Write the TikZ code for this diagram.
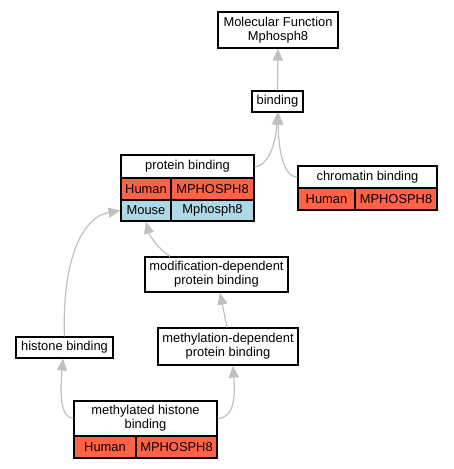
\documentclass[tikz,border=0pt]{standalone}
\usepackage{fontspec}
\setmainfont{Liberation Sans}
\usetikzlibrary{arrows.meta}
\definecolor{humanc}{RGB}{255,99,71}
\definecolor{mousec}{RGB}{173,216,230}
\definecolor{edgec}{RGB}{192,192,192}
\tikzset{
  cell/.style={draw=black, line width=1.2pt, fill=white, inner sep=0pt, align=center,
    font=\fontsize{12.9}{14}\selectfont, anchor=center},
  human/.style={cell, fill=humanc},
  mouse/.style={cell, fill=mousec},
  edge/.style={draw=edgec, line width=1.2pt, -{Triangle[length=12pt, width=10pt, fill=edgec]}},
}
\begin{document}
\begin{tikzpicture}[x=1pt, y=-1pt]
\useasboundingbox (0,0) rectangle (453,469);
% Molecular Function
\node[cell, minimum width=120pt, minimum height=36pt] (mf) at (278,30) {Molecular Function\\Mphosph8};
% binding
\node[cell, minimum width=51pt, minimum height=21pt] (bind) at (277.5,101.5) {binding};
% protein binding table
\node[cell, minimum width=133pt, minimum height=23pt] (pb) at (187.5,166.5) {protein binding};
\node[human, minimum width=50pt, minimum height=22pt] (pbh) at (146,189) {Human};
\node[human, minimum width=83pt, minimum height=22pt] (pbhg) at (212.5,189) {MPHOSPH8};
\node[mouse, minimum width=50pt, minimum height=21pt] (pbm) at (146,210.5) {Mouse};
\node[mouse, minimum width=83pt, minimum height=21pt] (pbmg) at (212.5,210.5) {Mphosph8};
% chromatin binding
\node[cell, minimum width=139pt, minimum height=22pt] (cb) at (367.5,177) {chromatin binding};
\node[human, minimum width=57pt, minimum height=22pt] (cbh) at (326.5,199) {Human};
\node[human, minimum width=82pt, minimum height=22pt] (cbhg) at (396,199) {MPHOSPH8};
% modification-dependent
\node[cell, minimum width=143pt, minimum height=35pt] (mod) at (216.5,274.5) {modification-dependent\\protein binding};
% histone binding
\node[cell, minimum width=97pt, minimum height=21pt] (hb) at (64.5,347.5) {histone binding};
% methylation-dependent
\node[cell, minimum width=140pt, minimum height=37pt] (meth) at (228,346.5) {methylation-dependent\\protein binding};
% methylated histone binding
\node[cell, minimum width=143pt, minimum height=35pt] (mh) at (145.5,418.5) {methylated histone\\binding};
\node[human, minimum width=62pt, minimum height=22pt] (mhh) at (105,447) {Human};
\node[human, minimum width=81pt, minimum height=22pt] (mhhg) at (176.5,447) {MPHOSPH8};
% edges
\draw[edge] (bind.north) -- (mf.south);
\draw[edge] (pb.east |- 0,167) .. controls (270,165) and (276,140) .. (bind.south);
\draw[edge] (cb.west) .. controls (284,178) and (278,150) .. ([xshift=1pt]bind.south);
\draw[edge] (hb.north) .. controls (62,270) and (78,218) .. (pbm.west);
\draw[edge] (mod.north -| 170,0) .. controls (160,250) and (150,237) .. (pbm.south -| 146,0);
\draw[edge] (meth.north -| 227,0) -- (mod.south -| 220,0);
\draw[edge] (mh.west) .. controls (60,418) and (60,392) .. (hb.south -| 63,0);
\draw[edge] (mh.east) .. controls (235,418) and (235,395) .. (meth.south -| 233,0);
\end{tikzpicture}
\end{document}
